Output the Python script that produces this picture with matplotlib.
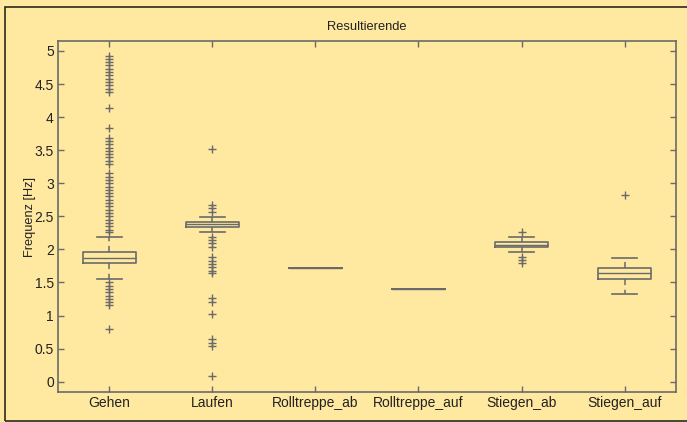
"""
Boxplot "Resultierende" - step frequency per activity class.
MATLAB-style look: yellow background, gray lines, dashed whiskers.
"""

import matplotlib
matplotlib.use("Agg")
import matplotlib.pyplot as plt
from matplotlib.patches import Rectangle


# ── Data ───────────────────────────────────────────────────────────────────

categories = ["Gehen", "Laufen", "Rolltreppe_ab", "Rolltreppe_auf",
              "Stiegen_ab", "Stiegen_auf"]

medians   = [1.876, 2.390, 1.725, 1.407, 2.070, 1.644]
q1        = [1.800, 2.345, 1.725, 1.407, 2.033, 1.559]
q3        = [1.958, 2.420, 1.725, 1.407, 2.109, 1.725]
whis_lo   = [1.558, 2.265, 1.725, 1.407, 1.958, 1.322]
whis_hi   = [2.185, 2.496, 1.725, 1.407, 2.185, 1.871]

fliers_gehen = [4.93, 4.88, 4.83, 4.78, 4.73, 4.68, 4.63, 4.58, 4.53, 4.48,
                4.43, 4.38, 4.14, 3.83, 3.69, 3.64, 3.59, 3.54, 3.49, 3.44,
                3.39, 3.34, 3.29, 3.15, 3.10, 3.05, 3.00, 2.95, 2.90, 2.85,
                2.80, 2.75, 2.70, 2.65, 2.60, 2.55, 2.50, 2.45, 2.40, 2.35,
                2.30, 2.26, 1.50, 1.45, 1.40, 1.35, 1.30, 1.25, 1.20, 1.16,
                0.79]
fliers_laufen = [3.52, 2.67, 2.62, 2.57, 2.19, 2.14, 2.09, 2.04, 1.88, 1.83,
                 1.78, 1.73, 1.68, 1.64, 1.26, 1.21, 1.02, 0.64, 0.59, 0.54,
                 0.08]
fliers_rt_ab = []
fliers_rt_auf = []
fliers_st_ab = [2.27, 1.88, 1.84, 1.79]
fliers_st_auf = [2.82]

fliers = [fliers_gehen, fliers_laufen, fliers_rt_ab, fliers_rt_auf,
          fliers_st_ab, fliers_st_auf]

y_ticks = [0, 0.5, 1, 1.5, 2, 2.5, 3, 3.5, 4, 4.5, 5]
y_tick_labels = ["0", "0.5", "1", "1.5", "2", "2.5", "3", "3.5", "4", "4.5", "5"]


# ── Style ──────────────────────────────────────────────────────────────────

BG = "#FFE8A0"
LINE = "#6a6a6a"
TEXT = "#222222"
FRAME = "#2a2a1e"

plt.rcParams["font.family"] = ["Liberation Sans", "DejaVu Sans"]


# ── Plot ───────────────────────────────────────────────────────────────────

stats = []
for i, name in enumerate(categories):
    stats.append(dict(label=name, med=medians[i], q1=q1[i], q3=q3[i],
                      whislo=whis_lo[i], whishi=whis_hi[i], fliers=fliers[i]))

fig = plt.figure(figsize=(6.87, 4.22), dpi=100, facecolor=BG)
ax = fig.add_axes([0.0844, 0.0704, 0.8996, 0.8324], facecolor=BG)

ax.bxp(
    stats,
    widths=0.51,
    boxprops=dict(color=LINE, linewidth=1.2),
    medianprops=dict(color=LINE, linewidth=1.0),
    whiskerprops=dict(color=LINE, linewidth=1.1, linestyle=(0, (4, 3))),
    capprops=dict(color=LINE, linewidth=1.2),
    capwidths=0.25,
    flierprops=dict(marker="+", markeredgecolor=LINE, markersize=5.5,
                    markeredgewidth=1.0, linestyle="none"),
)

ax.set_xlim(0.5, 6.5)
ax.set_ylim(-0.16, 5.15)
ax.set_yticks(y_ticks)
ax.set_yticklabels(y_tick_labels)

ax.set_title("Resultierende", fontsize=9.3, color=TEXT, pad=8)
ax.set_ylabel("Frequenz [Hz]", fontsize=9.2, color=TEXT)
ax.yaxis.set_label_coords(-0.036, 0.5)

for spine in ax.spines.values():
    spine.set_color(LINE)
    spine.set_linewidth(1.2)

ax.tick_params(direction="in", top=True, right=True, length=4.5, width=1.0,
               color=LINE, labelcolor=TEXT, labelsize=10, pad=3)

# outer black frame (extends past the right edge, as in the source)
fig.patches.append(Rectangle((0.0073, 0.003), 1.1, 0.9797,
                             transform=fig.transFigure, fill=False,
                             edgecolor=FRAME, linewidth=1.2))

fig.savefig("out.png", dpi=100, facecolor=BG)
plt.close(fig)
